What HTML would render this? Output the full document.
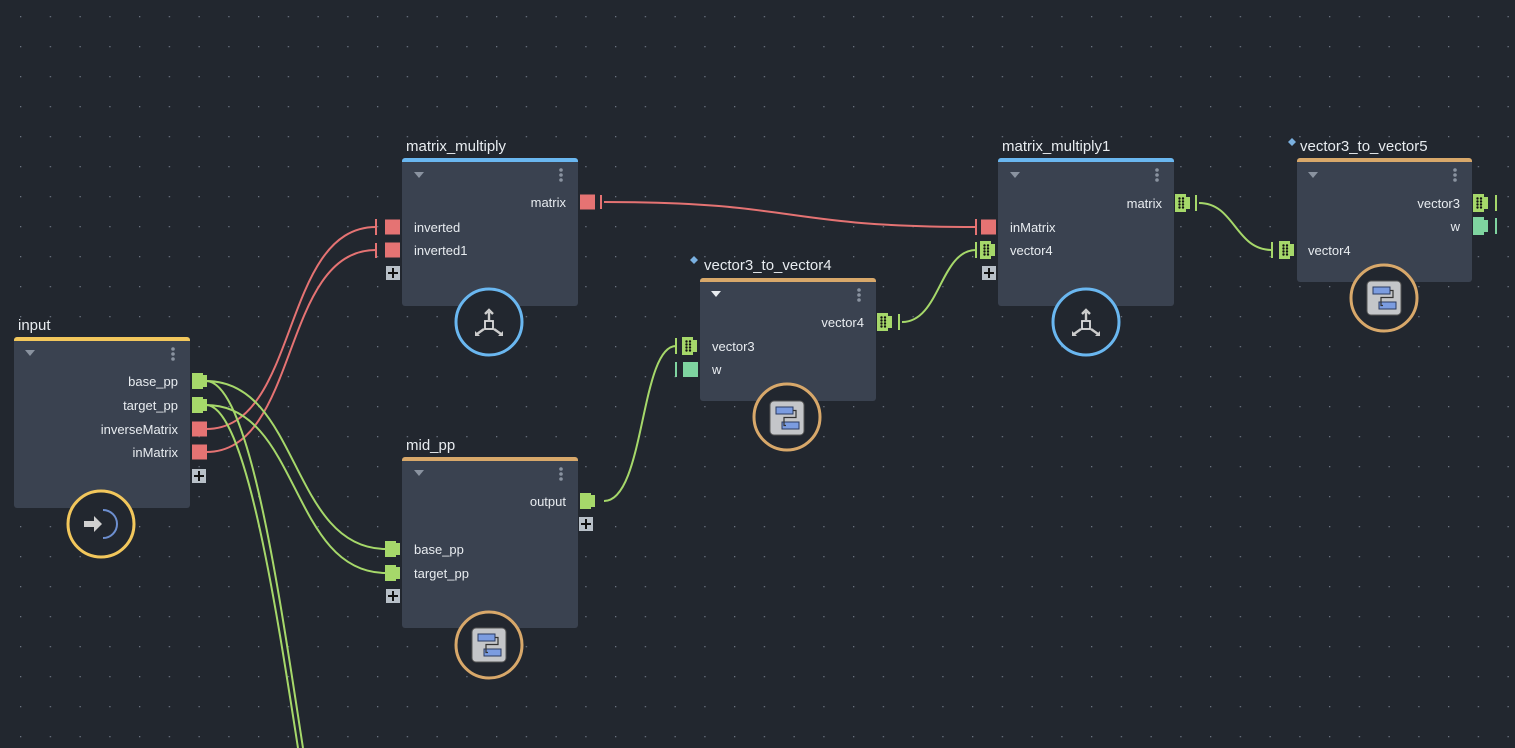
<!DOCTYPE html>
<html><head><meta charset="utf-8"><style>
html,body{margin:0;padding:0;background:#22272f;}
svg{display:block}
text{font-family:"Liberation Sans",sans-serif;}
</style></head><body>
<svg width="1515" height="748" viewBox="0 0 1515 748" xmlns="http://www.w3.org/2000/svg">
<defs>
<pattern id="dots" x="20" y="16" width="29.75" height="30" patternUnits="userSpaceOnUse">
<rect x="0" y="0" width="1.3" height="1.3" fill="#6a7280"/>
</pattern>
<g id="pg">
<path d="M0,-8 h11 v2 h4 v12 h-4 v2 h-11 z" fill="#a6d86a"/>
</g>
<g id="pv">
<path d="M0,-9 h11 v3 h4 v12 h-4 v3 h-11 z" fill="#a6d86a"/>
<circle cx="4.5" cy="-4.5" r="1.2" fill="#111"/><circle cx="8" cy="-4.5" r="1.2" fill="#111"/>
<circle cx="4.5" cy="-1.5" r="1.2" fill="#111"/><circle cx="8" cy="-1.5" r="1.2" fill="#111"/>
<circle cx="4.5" cy="1.5" r="1.2" fill="#111"/><circle cx="8" cy="1.5" r="1.2" fill="#111"/>
<circle cx="4.5" cy="4.5" r="1.2" fill="#111"/><circle cx="8" cy="4.5" r="1.2" fill="#111"/>
</g>
<g id="pr"><rect x="0" y="-7.5" width="15" height="15" fill="#e57373"/></g>
<g id="plus"><rect x="-7" y="-7" width="14" height="14" fill="#b8c0c8"/><path d="M-5,0 h10 M0,-5 v10" stroke="#111" stroke-width="2"/></g>
<g id="menu"><circle cx="0" cy="-5" r="1.8" fill="#8a93a0"/><circle cx="0" cy="0" r="1.8" fill="#8a93a0"/><circle cx="0" cy="5" r="1.8" fill="#8a93a0"/></g>
<g id="ico2"><rect x="-17" y="-17" width="34" height="34" rx="4" fill="#c4c6c9" stroke="#555" stroke-width="1"/>
<rect x="-11" y="-11" width="17" height="7" fill="#7b9ce0" stroke="#2a3a60"/>
<rect x="-5" y="4" width="17" height="7" fill="#7b9ce0" stroke="#2a3a60"/>
<path d="M6,-7.5 h3 v7 h-12 v8 h2" fill="none" stroke="#333" stroke-width="1.2"/></g>
<g id="icoT"><rect x="-4" y="-3" width="8" height="8" fill="none" stroke="#ddd" stroke-width="1.8"/>
<path d="M0,-4 v-8 M-4,-10 l4,-4 l4,4" fill="none" stroke="#ccc" stroke-width="2.4"/>
<path d="M-5,5 l-7,5 M5,5 l7,5" stroke="#ccc" stroke-width="2.4"/>
<path d="M-14,7 l0,5 l5,0 z M14,7 l0,5 l-5,0 z" fill="#ccc"/></g>
</defs>
<rect width="1515" height="748" fill="#22272f"/>
<rect width="1515" height="748" fill="url(#dots)"/>

<!-- wires -->
<g fill="none" stroke-width="2">
<path d="M206,429 C300,429 280,227 376,227" stroke="#e57373"/>
<path d="M206,452 C300,452 280,250 376,250" stroke="#e57373"/>
<path d="M604,202 C800,202 780,227 976,227" stroke="#e57373"/>
<path d="M206,381 C300,381 290,549 386,549" stroke="#a6d86a"/>
<path d="M206,405 C300,405 290,573 386,573" stroke="#a6d86a"/>
<path d="M206,381 C250,381 280,600 303,748" stroke="#a6d86a"/>
<path d="M206,405 C245,405 275,600 298,748" stroke="#a6d86a"/>
<path d="M604,501 C645,501 640,346 676,346" stroke="#a6d86a"/>
<path d="M902,322 C940,322 940,250 976,250" stroke="#a6d86a"/>
<path d="M1199,203 C1235,203 1235,250 1272,250" stroke="#a6d86a"/>
</g>
<g stroke-width="2">
<path d="M601,195 v14" stroke="#e57373"/>
<path d="M976,219 v16" stroke="#e57373"/>
<path d="M376,219 v16 M376,243 v15" stroke="#e57373"/>
<path d="M976,242 v16 M1272,242 v16 M1196,195 v16 M899,314 v16 M676,338 v16" stroke="#a6d86a"/>
<path d="M1496,195 v16" stroke="#a6d86a"/>
<path d="M1496,218 v16 M676,362 v15" stroke="#7fd4a0"/>
</g>

<!-- input -->
<text x="18" y="330" fill="#e8ecf0" font-size="15">input</text>
<rect x="14" y="337" width="176" height="171" rx="3" fill="#3a4250"/>
<path d="M14,340 a3,3 0 0 1 3,-3 h170 a3,3 0 0 1 3,3 v1 h-176z" fill="#f2c75c"/>
<path d="M25,350 h10 l-5,6z" fill="#8a93a0"/>
<use href="#menu" x="173" y="354"/>
<g fill="#e8ecf0" font-size="13" text-anchor="end">
<text x="178" y="386">base_pp</text><text x="178" y="410">target_pp</text>
<text x="178" y="434">inverseMatrix</text><text x="178" y="457">inMatrix</text></g>
<use href="#pg" x="192" y="381"/><use href="#pg" x="192" y="405"/>
<use href="#pr" x="192" y="429"/><use href="#pr" x="192" y="452"/>
<use href="#plus" x="199" y="476"/>
<circle cx="101" cy="524" r="33" fill="#22272f" stroke="#f2c75c" stroke-width="3"/>
<path d="M84,521 h10 v-5 l8,8 l-8,8 v-5 h-10z" fill="#d0d0d0"/>
<path d="M103,510 a14,14 0 0 1 0,28" fill="none" stroke="#6d8fd0" stroke-width="2"/>

<!-- matrix_multiply -->
<text x="406" y="151" fill="#e8ecf0" font-size="15">matrix_multiply</text>
<rect x="402" y="158" width="176" height="148" rx="3" fill="#3a4250"/>
<path d="M402,161 a3,3 0 0 1 3,-3 h170 a3,3 0 0 1 3,3 v1 h-176z" fill="#6ab7f0"/>
<path d="M414,172 h10 l-5,6z" fill="#8a93a0"/>
<use href="#menu" x="561" y="175"/>
<g fill="#e8ecf0" font-size="13"><text x="566" y="207" text-anchor="end">matrix</text>
<text x="414" y="232">inverted</text><text x="414" y="255">inverted1</text></g>
<use href="#pr" x="580" y="202"/>
<use href="#pr" x="385" y="227"/><use href="#pr" x="385" y="250"/>
<use href="#plus" x="393" y="273"/>
<circle cx="489" cy="322" r="33" fill="#22272f" stroke="#6ab7f0" stroke-width="3"/>
<use href="#icoT" x="489" y="324"/>

<!-- mid_pp -->
<text x="406" y="450" fill="#e8ecf0" font-size="15">mid_pp</text>
<rect x="402" y="457" width="176" height="171" rx="3" fill="#3a4250"/>
<path d="M402,460 a3,3 0 0 1 3,-3 h170 a3,3 0 0 1 3,3 v1 h-176z" fill="#d8a86a"/>
<path d="M414,470 h10 l-5,6z" fill="#8a93a0"/>
<use href="#menu" x="561" y="474"/>
<g fill="#e8ecf0" font-size="13"><text x="566" y="506" text-anchor="end">output</text>
<text x="414" y="554">base_pp</text><text x="414" y="578">target_pp</text></g>
<use href="#pg" x="580" y="501"/><use href="#plus" x="586" y="524"/>
<use href="#pg" x="385" y="549"/><use href="#pg" x="385" y="573"/>
<use href="#plus" x="393" y="596"/>
<circle cx="489" cy="645" r="33" fill="#22272f" stroke="#d8a86a" stroke-width="3"/>
<use href="#ico2" x="489" y="645"/>

<!-- vector3_to_vector4 -->
<path d="M694,256 l4,4 l-4,4 l-4,-4z" fill="#7ab0e0"/>
<text x="704" y="270" fill="#e8ecf0" font-size="15">vector3_to_vector4</text>
<rect x="700" y="278" width="176" height="123" rx="3" fill="#3a4250"/>
<path d="M700,281 a3,3 0 0 1 3,-3 h170 a3,3 0 0 1 3,3 v1 h-176z" fill="#d8a86a"/>
<path d="M711,291 h10 l-5,6z" fill="#e8ecf0"/>
<use href="#menu" x="859" y="295"/>
<g fill="#e8ecf0" font-size="13"><text x="864" y="327" text-anchor="end">vector4</text>
<text x="712" y="351">vector3</text><text x="712" y="374">w</text></g>
<use href="#pv" x="877" y="322"/>
<use href="#pv" x="682" y="346"/>
<rect x="683" y="362" width="15" height="15" fill="#7fd4a0"/>
<circle cx="787" cy="417" r="33" fill="#22272f" stroke="#d8a86a" stroke-width="3"/>
<use href="#ico2" x="787" y="418"/>

<!-- matrix_multiply1 -->
<text x="1002" y="151" fill="#e8ecf0" font-size="15">matrix_multiply1</text>
<rect x="998" y="158" width="176" height="148" rx="3" fill="#3a4250"/>
<path d="M998,161 a3,3 0 0 1 3,-3 h170 a3,3 0 0 1 3,3 v1 h-176z" fill="#6ab7f0"/>
<path d="M1010,172 h10 l-5,6z" fill="#8a93a0"/>
<use href="#menu" x="1157" y="175"/>
<g fill="#e8ecf0" font-size="13"><text x="1162" y="208" text-anchor="end">matrix</text>
<text x="1010" y="232">inMatrix</text><text x="1010" y="255">vector4</text></g>
<use href="#pv" x="1175" y="203"/>
<use href="#pr" x="981" y="227"/><use href="#pv" x="980" y="250"/>
<use href="#plus" x="989" y="273"/>
<circle cx="1086" cy="322" r="33" fill="#22272f" stroke="#6ab7f0" stroke-width="3"/>
<use href="#icoT" x="1086" y="324"/>

<!-- vector3_to_vector5 -->
<path d="M1292,138 l4,4 l-4,4 l-4,-4z" fill="#7ab0e0"/>
<text x="1300" y="151" fill="#e8ecf0" font-size="15">vector3_to_vector5</text>
<rect x="1297" y="158" width="175" height="124" rx="3" fill="#3a4250"/>
<path d="M1297,161 a3,3 0 0 1 3,-3 h169 a3,3 0 0 1 3,3 v1 h-175z" fill="#d8a86a"/>
<path d="M1308,172 h10 l-5,6z" fill="#8a93a0"/>
<use href="#menu" x="1455" y="175"/>
<g fill="#e8ecf0" font-size="13"><text x="1460" y="208" text-anchor="end">vector3</text>
<text x="1460" y="231" text-anchor="end">w</text><text x="1308" y="255">vector4</text></g>
<use href="#pv" x="1473" y="203"/>
<g><path d="M1473,217 h11 v3 h4 v12 h-4 v3 h-11z" fill="#7fd4a0"/></g>
<use href="#pv" x="1279" y="250"/>
<circle cx="1384" cy="298" r="33" fill="#22272f" stroke="#d8a86a" stroke-width="3"/>
<use href="#ico2" x="1384" y="298"/>
</svg>
</body></html>
